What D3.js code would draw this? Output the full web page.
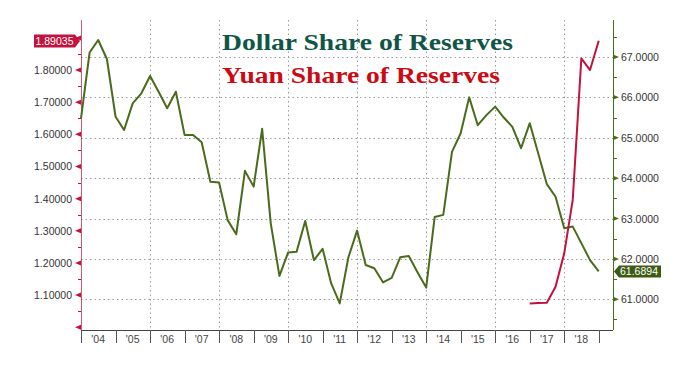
<!DOCTYPE html>
<html>
<head>
<meta charset="utf-8">
<script src="https://cdn.jsdelivr.net/npm/d3@7"></script>
<style>
  body { margin: 0; background: #fff; }
  svg { display: block; }
</style>
</head>
<body>
<div id="chart"></div>
<script>
'use strict';

// quarterly data, first point is Q4 2003
var firstQuarter = [2003, 4];

// USD share of allocated reserves (%), right axis
var dollarShare = [
  65.48, 67.11, 67.42, 66.95, 65.52, 65.19, 65.85, 66.10, 66.53, 66.14,
  65.73, 66.14, 65.07, 65.07, 64.89, 63.91, 63.89, 62.96, 62.61, 64.18,
  63.79, 65.22, 62.88, 61.58, 62.16, 62.18, 62.94, 61.97, 62.25, 61.40,
  60.90, 62.04, 62.70, 61.85, 61.77, 61.42, 61.53, 62.04, 62.07, 61.67,
  61.29, 63.04, 63.09, 64.65, 65.11, 66.00, 65.31, 65.56, 65.77, 65.50,
  65.27, 64.74, 65.36, 64.61, 63.85, 63.54, 62.76, 62.80, 62.39, 61.97,
  61.69
];

// CNY share of allocated reserves (%), left axis, reported from Q4 2016
var yuanStart = [2016, 4];
var yuanShare = [1.074, 1.075, 1.076, 1.126, 1.23, 1.396, 1.836, 1.80, 1.891];

var yearLabels = ["'04", "'05", "'06", "'07", "'08", "'09", "'10", "'11", "'12",
                  "'13", "'14", "'15", "'16", "'17", "'18"];
var leftTicks = [1.0, 1.1, 1.2, 1.3, 1.4, 1.5, 1.6, 1.7, 1.8, 1.9];
var rightTicks = [61, 62, 63, 64, 65, 66, 67];
var gridYears = [2006, 2008, 2010, 2012, 2014, 2016, 2018];

var lastYuan = '1.89035', lastDollar = '61.6894';

// quarter end date (plotted at first day of next quarter)
function quarterDate(start, i) {
  var q = start[1] - 1 + i;
  return new Date(start[0] + Math.floor(q / 4), (q % 4) * 3 + 3, 1);
}

var width = 685, height = 370,
    plotLeft = 81, plotRight = 613, plotTop = 20, plotBottom = 330,
    green = '#4a6a1c', red = '#c3123d',
    tickFont = '10.5px "Liberation Sans", Arial, sans-serif';

var svg = d3.select('#chart').append('svg')
    .attr('width', width)
    .attr('height', height);

var x = d3.scaleTime()
    .domain([new Date(2004, 0, 1), new Date(2019, 5, 1)])
    .range([plotLeft, plotRight]);
var yL = d3.scaleLinear().domain([0.9914, 1.9556]).range([plotBottom, plotTop]);
var yR = d3.scaleLinear().domain([60.24, 67.915]).range([plotBottom, plotTop]);

function px(v) { return Math.round(v) + 0.5; }
function yearX(d) { return px(x(new Date(d, 0, 1))); }

// grid
svg.append('g').selectAll('line').data(rightTicks).enter().append('line')
    .attr('x1', plotLeft).attr('x2', plotRight)
    .attr('y1', function(d) { return px(yR(d)); })
    .attr('y2', function(d) { return px(yR(d)); })
    .attr('stroke', '#9a9a9a').attr('stroke-dasharray', '1.5,3');
svg.append('g').selectAll('line').data(gridYears).enter().append('line')
    .attr('x1', yearX).attr('x2', yearX)
    .attr('y1', plotTop).attr('y2', plotBottom)
    .attr('stroke', '#9a9a9a').attr('stroke-dasharray', '1.5,3');

// bottom axis
svg.append('line')
    .attr('x1', plotLeft).attr('x2', plotRight).attr('y1', plotBottom + 0.5).attr('y2', plotBottom + 0.5)
    .attr('stroke', '#444');
svg.append('g').selectAll('line').data(d3.range(2004, 2020)).enter().append('line')
    .attr('x1', yearX).attr('x2', yearX)
    .attr('y1', plotBottom).attr('y2', plotBottom + 13)
    .attr('stroke', '#555');
svg.append('g').selectAll('text').data(yearLabels).enter().append('text')
    .attr('x', function(d, i) { return x(new Date(2004 + i, 6, 1)); })
    .attr('y', plotBottom + 13)
    .attr('text-anchor', 'middle')
    .style('font', tickFont)
    .attr('fill', '#444')
    .text(function(d) { return d; });

// left axis (yuan)
svg.append('line')
    .attr('x1', plotLeft + 0.5).attr('x2', plotLeft + 0.5).attr('y1', plotTop).attr('y2', plotBottom)
    .attr('stroke', red).attr('stroke-opacity', 0.7);
svg.append('g').selectAll('line').data(d3.range(1.0, 1.95, 0.05)).enter().append('line')
    .attr('x1', plotLeft - 3).attr('x2', plotLeft)
    .attr('y1', function(d) { return px(yL(d)); })
    .attr('y2', function(d) { return px(yL(d)); })
    .attr('stroke', red);
svg.append('g').selectAll('path').data(leftTicks).enter().append('path')
    .attr('d', function(d) { var y = yL(d); return 'M' + plotLeft + ',' + (y - 2.5) + 'L' + (plotLeft - 6) + ',' + y + 'L' + plotLeft + ',' + (y + 2.5) + 'Z'; })
    .attr('fill', red);
svg.append('g').selectAll('text').data(leftTicks.filter(function(d) { return d > 1.05 && d < 1.85; })).enter().append('text')
    .attr('x', plotLeft - 9).attr('y', function(d) { return yL(d) + 4; })
    .attr('text-anchor', 'end')
    .style('font', tickFont)
    .attr('fill', '#333')
    .text(function(d) { return d.toFixed(5); });

// right axis (dollar)
svg.append('line')
    .attr('x1', plotRight + 0.5).attr('x2', plotRight + 0.5).attr('y1', plotTop).attr('y2', plotBottom)
    .attr('stroke', green);
svg.append('g').selectAll('line').data(d3.range(60.5, 68, 1)).enter().append('line')
    .attr('x1', plotRight).attr('x2', plotRight + 4)
    .attr('y1', function(d) { return px(yR(d)); })
    .attr('y2', function(d) { return px(yR(d)); })
    .attr('stroke', green);
svg.append('g').selectAll('path').data(rightTicks).enter().append('path')
    .attr('d', function(d) { var y = yR(d); return 'M' + plotRight + ',' + (y - 2.5) + 'L' + (plotRight + 6) + ',' + y + 'L' + plotRight + ',' + (y + 2.5) + 'Z'; })
    .attr('fill', green);
svg.append('g').selectAll('text').data(rightTicks).enter().append('text')
    .attr('x', plotRight + 8).attr('y', function(d) { return yR(d) + 4; })
    .style('font', tickFont)
    .attr('fill', '#333')
    .text(function(d) { return d.toFixed(4); });

// lines
var dollarLine = d3.line()
    .x(function(d, i) { return x(quarterDate(firstQuarter, i)); })
    .y(function(d) { return yR(d); });
var yuanLine = d3.line()
    .x(function(d, i) { return x(quarterDate(yuanStart, i)); })
    .y(function(d) { return yL(d); });

svg.append('path').datum(dollarShare)
    .attr('d', dollarLine)
    .attr('fill', 'none').attr('stroke', green).attr('stroke-width', 2)
    .attr('stroke-linejoin', 'round');
svg.append('path').datum(yuanShare)
    .attr('d', yuanLine)
    .attr('fill', 'none').attr('stroke', red).attr('stroke-width', 2)
    .attr('stroke-linejoin', 'round');

// last value tags
var yy = yL(+lastYuan);
svg.append('path')
    .attr('d', 'M34,' + (yy - 6.5) + 'L75,' + (yy - 6.5) + 'L80,' + yy + 'L75,' + (yy + 6.5) + 'L34,' + (yy + 6.5) + 'Z')
    .attr('fill', red);
svg.append('text').attr('x', 54.5).attr('y', yy + 4)
    .attr('text-anchor', 'middle')
    .style('font', tickFont)
    .attr('fill', '#fff').text(lastYuan);

var yd = yR(+lastDollar);
svg.append('path')
    .attr('d', 'M' + (plotRight + 1) + ',' + yd + 'L' + (plotRight + 6) + ',' + (yd - 6) + 'L661,' + (yd - 6) + 'L661,' + (yd + 6) + 'L' + (plotRight + 6) + ',' + (yd + 6) + 'Z')
    .attr('fill', '#3c5a12');
svg.append('text').attr('x', 639).attr('y', yd + 4)
    .attr('text-anchor', 'middle')
    .style('font', tickFont)
    .attr('fill', '#fff').text(lastDollar);

// titles
svg.append('text').attr('x', 222).attr('y', 50)
    .attr('textLength', 291).attr('lengthAdjust', 'spacingAndGlyphs')
    .style('font', 'bold 24px "Liberation Serif", "Times New Roman", serif')
    .attr('fill', '#0f5646')
    .text('Dollar Share of Reserves');
svg.append('text').attr('x', 222).attr('y', 83)
    .attr('textLength', 278).attr('lengthAdjust', 'spacingAndGlyphs')
    .style('font', 'bold 24px "Liberation Serif", "Times New Roman", serif')
    .attr('fill', '#cc0a14')
    .text('Yuan Share of Reserves');
</script>
</body>
</html>
